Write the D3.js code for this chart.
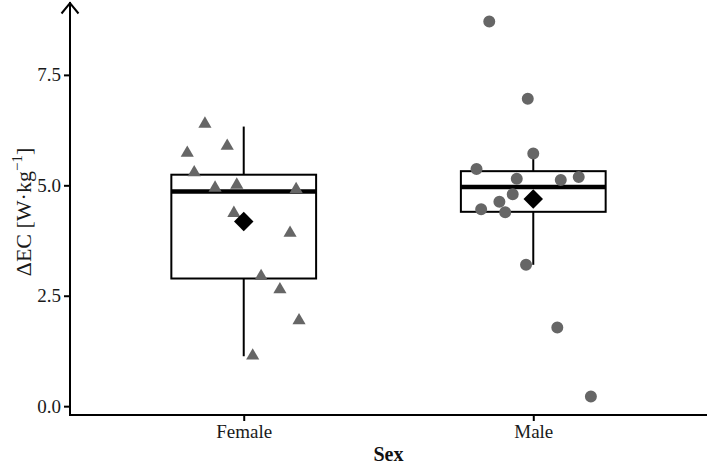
<!DOCTYPE html>
<html>
<head>
<meta charset="utf-8">
<script src="https://cdn.jsdelivr.net/npm/d3@7"></script>
<style>
	body { margin: 0; background: #fff; }
	text { font-family: "Liberation Serif", "Times New Roman", serif; }
</style>
</head>
<body>
<div class="canvas"></div>
<script>
const categories = ["Female", "Male"];
const yTicks = [0, 2.5, 5, 7.5];

// box summaries: [lower whisker, Q1, median, Q3, upper whisker, mean]
const femaleBox = [1.13, 2.89, 4.86, 5.24, 6.33, 4.18];
const maleBox = [3.2, 4.4, 4.96, 5.32, 5.71, 4.69];

// raw points (value) and jitter offset (in category units)
const femaleValues = [6.39, 5.89, 5.73, 5.29, 4.94, 5.01, 4.91, 4.37, 3.92, 2.94, 2.64, 1.94, 1.14];
const femaleJitter = [-0.134, -0.057, -0.195, -0.171, -0.099, -0.024, 0.181, -0.034, 0.16, 0.06, 0.125, 0.191, 0.031];
const maleValues = [8.71, 6.96, 5.72, 5.37, 5.15, 5.12, 5.19, 4.8, 4.63, 4.46, 4.39, 3.2, 1.78, 0.22];
const maleJitter = [-0.152, -0.019, 0, -0.196, -0.057, 0.095, 0.157, -0.071, -0.117, -0.18, -0.097, -0.025, 0.083, 0.199];

const dims = { width: 709, height: 465 };
const svg = d3
	.select(".canvas")
	.append("svg")
	.attr("width", dims.width)
	.attr("height", dims.height);

const x = d3.scaleLinear().domain([0.4, 2.6]).range([70, 707]);
const y = d3.scaleLinear().domain([-0.2, 9.15]).range([415, 2]);
const pos = (c) => categories.indexOf(c) + 1;
const boxW = 0.5;

const boxes = [
	{ cat: "Female", s: femaleBox },
	{ cat: "Male", s: maleBox },
];
const points = [
	...femaleValues.map((v, i) => ({ cat: "Female", v, j: femaleJitter[i] })),
	...maleValues.map((v, i) => ({ cat: "Male", v, j: maleJitter[i] })),
];

const grey = "#666666";

// whiskers + boxes
const g = svg.append("g");
boxes.forEach((b) => {
	const cx = x(pos(b.cat));
	g.append("line")
		.attr("x1", cx).attr("x2", cx)
		.attr("y1", y(b.s[0])).attr("y2", y(b.s[1]))
		.attr("stroke", "#000").attr("stroke-width", 2);
	g.append("line")
		.attr("x1", cx).attr("x2", cx)
		.attr("y1", y(b.s[3])).attr("y2", y(b.s[4]))
		.attr("stroke", "#000").attr("stroke-width", 2);
	g.append("rect")
		.attr("x", x(pos(b.cat) - boxW / 2))
		.attr("width", x(pos(b.cat) + boxW / 2) - x(pos(b.cat) - boxW / 2))
		.attr("y", y(b.s[3]))
		.attr("height", y(b.s[1]) - y(b.s[3]))
		.attr("fill", "#fff")
		.attr("stroke", "#000")
		.attr("stroke-width", 2);
	g.append("line")
		.attr("x1", x(pos(b.cat) - boxW / 2)).attr("x2", x(pos(b.cat) + boxW / 2))
		.attr("y1", y(b.s[2])).attr("y2", y(b.s[2]))
		.attr("stroke", "#000").attr("stroke-width", 4.5);
});

// jittered points
const tri = d3.symbol().type(d3.symbolTriangle).size(75);
const dot = d3.symbol().type(d3.symbolCircle).size(113);
g.selectAll("path.pt")
	.data(points)
	.enter()
	.append("path")
	.attr("class", "pt")
	.attr("transform", (d) => `translate(${x(pos(d.cat) + d.j)}, ${y(d.v)})`)
	.attr("d", (d) => (d.cat === "Female" ? tri() : dot()))
	.attr("fill", grey);

// means
const diamond = d3.symbol().type(d3.symbolSquare).size(190);
g.selectAll("path.mean")
	.data(boxes)
	.enter()
	.append("path")
	.attr("class", "mean")
	.attr("transform", (d) => `translate(${x(pos(d.cat))}, ${y(d.s[5])}) rotate(45)`)
	.attr("d", diamond)
	.attr("fill", "#000");

// y axis
const yAxis = svg
	.append("g")
	.attr("transform", `translate(${x.range()[0]}, 0)`)
	.call(d3.axisLeft(y).tickValues(yTicks).tickFormat(d3.format(".1f")).tickSize(6).tickPadding(3));
yAxis.select(".domain").remove();
yAxis.selectAll(".tick line").attr("stroke", "#000").attr("stroke-width", 2);
yAxis.selectAll(".tick text").attr("font-size", 19).attr("fill", "#1a1a1a").attr("font-family", "Liberation Serif");

// x axis
const xAxis = svg
	.append("g")
	.attr("transform", `translate(0, ${y.range()[0]})`)
	.call(d3.axisBottom(x).tickValues([1, 2]).tickFormat((d) => categories[d - 1]).tickSize(6).tickPadding(4));
xAxis.select(".domain").remove();
xAxis.selectAll(".tick line").attr("stroke", "#000").attr("stroke-width", 2);
xAxis.selectAll(".tick text").attr("font-size", 19).attr("fill", "#1a1a1a").attr("font-family", "Liberation Serif");

// axis lines with arrow on y
const x0 = x.range()[0], y0 = y.range()[0], yTop = y.range()[1];
svg.append("line")
	.attr("x1", x0).attr("x2", x.range()[1])
	.attr("y1", y0).attr("y2", y0)
	.attr("stroke", "#000").attr("stroke-width", 2);
svg.append("line")
	.attr("x1", x0).attr("x2", x0)
	.attr("y1", y0 + 1).attr("y2", yTop)
	.attr("stroke", "#000").attr("stroke-width", 2);
svg.append("path")
	.attr("d", `M${x0 - 8.5},${yTop + 11.5} L${x0},${yTop + 1} L${x0 + 8.5},${yTop + 11.5}`)
	.attr("fill", "none")
	.attr("stroke", "#000")
	.attr("stroke-width", 2);

// axis titles
svg.append("text")
	.attr("x", (x.range()[0] + x.range()[1]) / 2)
	.attr("y", 461)
	.attr("text-anchor", "middle")
	.attr("font-size", 20)
	.attr("font-weight", "bold")
	.attr("fill", "#111")
	.text("Sex");

const yl = svg.append("text")
	.attr("transform", `translate(30.5, 212) rotate(-90)`)
	.attr("text-anchor", "middle")
	.attr("font-size", 22)
	.attr("fill", "#1a1a1a");
yl.append("tspan").text("ΔEC [W·kg");
yl.append("tspan").attr("dy", -9).attr("font-size", 15).text("−1");
yl.append("tspan").attr("dy", 9).text("]");
</script>
</body>
</html>
